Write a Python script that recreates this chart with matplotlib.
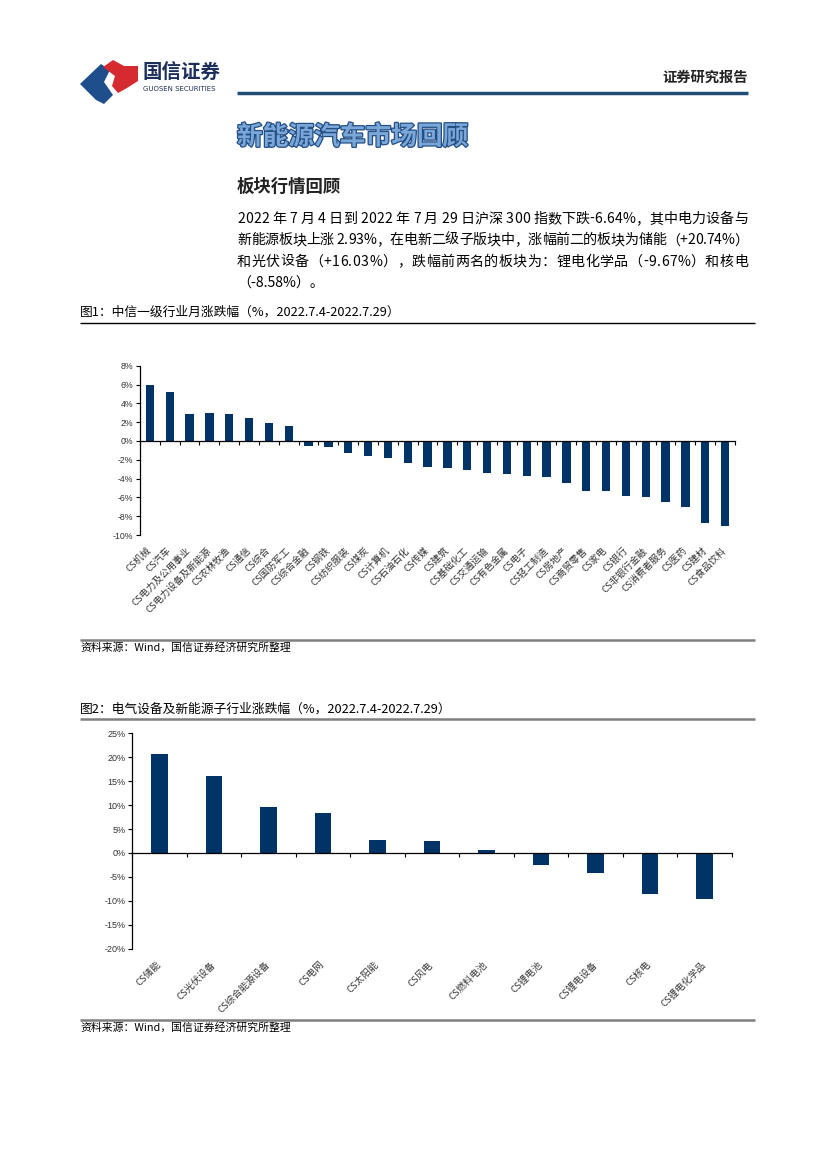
import numpy as np
import matplotlib
matplotlib.use('Agg')
import matplotlib.pyplot as plt
import matplotlib.patheffects as pe
from matplotlib.patches import Polygon
from matplotlib.lines import Line2D
from matplotlib.transforms import offset_copy

plt.rcParams['font.family'] = ['Noto Sans CJK SC', 'DejaVu Sans']

# ---------------- data ----------------
cats1 = ['CS机械', 'CS汽车', 'CS电力及公用事业', 'CS电力设备及新能源', 'CS农林牧渔',
         'CS通信', 'CS综合', 'CS国防军工', 'CS综合金融', 'CS钢铁', 'CS纺织服装',
         'CS煤炭', 'CS计算机', 'CS石油石化', 'CS传媒', 'CS建筑', 'CS基础化工',
         'CS交通运输', 'CS有色金属', 'CS电子', 'CS轻工制造', 'CS房地产', 'CS商贸零售',
         'CS家电', 'CS银行', 'CS非银行金融', 'CS消费者服务', 'CS医药', 'CS建材', 'CS食品饮料']
vals1 = [5.95, 5.2, 2.9, 2.93, 2.9, 2.45, 1.95, 1.6, -0.5, -0.6, -1.25,
         -1.6, -1.8, -2.3, -2.8, -2.9, -3.1, -3.4, -3.5, -3.75, -3.85, -4.5, -5.3,
         -5.3, -5.8, -6.0, -6.5, -7.0, -8.7, -9.0]
yticks1 = [-10, -8, -6, -4, -2, 0, 2, 4, 6, 8]

cats2 = ['CS储能', 'CS光伏设备', 'CS综合能源设备', 'CS电网', 'CS太阳能', 'CS风电',
         'CS燃料电池', 'CS锂电池', 'CS锂电设备', 'CS核电', 'CS锂电化学品']
vals2 = [20.74, 16.03, 9.7, 8.3, 2.8, 2.4, 0.65, -2.6, -4.1, -8.58, -9.67]
yticks2 = [-20, -15, -10, -5, 0, 5, 10, 15, 20, 25]

header_right = '证券研究报告'
logo_cn = '国信证券'
logo_en = 'GUOSEN SECURITIES'
title = '新能源汽车市场回顾'
subtitle = '板块行情回顾'
para = ['2022 年 7 月 4 日到 2022 年 7 月 29 日沪深 300 指数下跌-6.64%，其中电力设备与',
        '新能源板块上涨 2.93%，在电新二级子版块中，涨幅前二的板块为储能（+20.74%）',
        '和光伏设备（+16.03%），跌幅前两名的板块为：锂电化学品（-9.67%）和核电',
        '（-8.58%）。']
cap1 = '图1：中信一级行业月涨跌幅（%，2022.7.4-2022.7.29）'
cap2 = '图2：电气设备及新能源子行业涨跌幅（%，2022.7.4-2022.7.29）'
source = '资料来源：Wind，国信证券经济研究所整理'

BAR = '#003366'
TXT = '#333333'

# ---------------- figure ----------------
W, H = 827, 1169
fig = plt.figure(figsize=(8.27, 11.69), dpi=100)
renderer = fig.canvas.get_renderer()


def fx(x):
    return x / W


def fy(y):
    return 1 - y / H


def hline(x0, x1, y, color, lw):
    fig.add_artist(Line2D([fx(x0), fx(x1)], [fy(y), fy(y)], transform=fig.transFigure,
                          color=color, lw=lw, solid_capstyle='butt'))


def justified(x0, x1, y, s, fs, justify=True):
    """Draw a line of text spread evenly between x0 and x1 (pixels)."""
    if not justify:
        fig.text(fx(x0), fy(y), s, fontsize=fs, color='black', ha='left', va='center')
        return
    widths = []
    for ch in s:
        t = fig.text(0, 0, ch if ch != ' ' else '\u00a0', fontsize=fs)
        widths.append(t.get_window_extent(renderer).width)
        t.remove()
    total = sum(widths)
    gap = (x1 - x0 - total) / max(len(s) - 1, 1)
    x = x0
    for ch, w in zip(s, widths):
        if ch != ' ':
            fig.text(fx(x), fy(y), ch, fontsize=fs, color='black', ha='left', va='center')
        x += w + gap


# logo
blue_pts = [(80, 84), (101, 64), (110, 70), (104, 82), (113, 95), (104, 104), (96, 100)]
red_pts = [(103, 67), (113, 60), (124, 66), (138, 66), (138, 81), (127, 88), (118, 93),
           (112, 86), (115, 76)]
fig.add_artist(Polygon([(fx(a), fy(b)) for a, b in blue_pts], closed=True,
                       transform=fig.transFigure, color='#1f4e8c', lw=0))
fig.add_artist(Polygon([(fx(a), fy(b)) for a, b in red_pts], closed=True,
                       transform=fig.transFigure, color='#d42a30', lw=0))
fig.text(fx(143), fy(73), logo_cn, fontsize=14, fontweight='bold', color='#1c2f5a',
         ha='left', va='center')
fig.text(fx(143), fy(89), logo_en, fontsize=5, color='#1c2f5a', ha='left', va='center',
         family=['DejaVu Sans'])
fig.text(fx(748), fy(78), header_right, fontsize=10.3, fontweight='bold', color='#222222',
         ha='right', va='center')
hline(237, 748, 93, '#1f4e79', 2.5)

# title
fig.text(fx(237), fy(137), title, fontsize=18.5, fontweight='bold', color='#7aa7d8',
         ha='left', va='center',
         path_effects=[pe.withStroke(linewidth=1.8, foreground='#234f85')])
fig.text(fx(237), fy(187), subtitle, fontsize=12.5, fontweight='bold', color='#222222',
         ha='left', va='center')
for i, line in enumerate(para):
    justified(237, 748, 219 + i * 21.3, line, 10.1, justify=(i < len(para) - 1))

# captions & rules
fig.text(fx(80), fy(312), cap1, fontsize=9.2, color='black', ha='left', va='center')
hline(80, 755, 323, 'black', 1.0)
hline(80, 755, 640, '#7f7f7f', 1.8)
fig.text(fx(80), fy(647), source, fontsize=7.8, color='black', ha='left', va='center')

fig.text(fx(80), fy(709), cap2, fontsize=9.2, color='black', ha='left', va='center')
hline(80, 755, 719, '#7f7f7f', 1.8)
hline(80, 755, 1020, '#7f7f7f', 1.8)
fig.text(fx(80), fy(1027), source, fontsize=7.8, color='black', ha='left', va='center')


# ---------------- charts ----------------
def bar_chart(rect, cats, vals, yticks, width, label_dy, label_fs, tick_fs):
    ax = fig.add_axes(rect)
    x = np.arange(len(cats))
    ax.bar(x, vals, width=width, color=BAR, zorder=2)
    ax.set_xlim(-0.5, len(cats) - 0.5)
    ax.set_ylim(yticks[0], yticks[-1])
    ax.set_yticks(yticks)
    ax.set_yticklabels([f'{v}%' for v in yticks], fontsize=tick_fs, color=TXT,
                       family=['Liberation Sans', 'DejaVu Sans'])
    for s in ('top', 'right'):
        ax.spines[s].set_visible(False)
    ax.spines['left'].set_linewidth(0.9)
    ax.spines['bottom'].set_position(('data', 0))
    ax.spines['bottom'].set_linewidth(0.9)
    ax.set_xticks(np.arange(len(cats) + 1) - 0.5)
    ax.set_xticklabels([])
    ax.tick_params(axis='both', direction='out', length=3, width=0.8, pad=2)
    ax.patch.set_alpha(0)
    tr = offset_copy(ax.get_xaxis_transform(), fig=fig, x=0, y=-label_dy, units='points')
    for i, lab in enumerate(cats):
        ax.text(i, 0, lab, transform=tr, rotation=45, ha='right', va='center',
                rotation_mode='anchor', fontsize=label_fs, color=TXT)
    return ax


bar_chart([fx(140), fy(535.1), (735 - 140) / W, (535.1 - 365.7) / H],
          cats1, vals1, yticks1, 0.42, 10, 6.8, 6.3)
bar_chart([fx(132.3), fy(948.7), (731.7 - 132.3) / W, (948.7 - 733.3) / H],
          cats2, vals2, yticks2, 0.31, 10.5, 6.8, 6.5)

fig.savefig('out.png', dpi=100)
